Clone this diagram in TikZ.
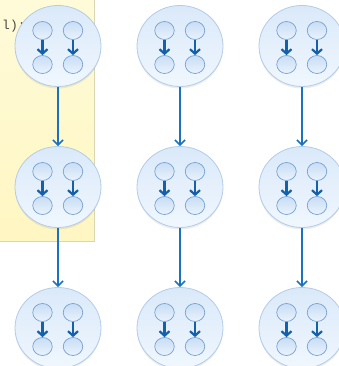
\documentclass[tikz,border=0pt]{standalone}
\usepackage{fontspec}
\newfontfamily\codefont{Liberation Mono}
\usetikzlibrary{arrows.meta,shapes.geometric,shadows}
\definecolor{bigrim}{HTML}{B3CCE7}
\definecolor{bigtop}{HTML}{DAE9F9}
\definecolor{bigbot}{HTML}{F0F7FE}
\definecolor{smallrim}{HTML}{77A1D1}
\definecolor{smalltop}{HTML}{C8DDF4}
\definecolor{smallbot}{HTML}{EAF3FC}
\definecolor{flow}{HTML}{1B72BE}
\definecolor{inner}{HTML}{1560AA}
\definecolor{notetop}{HTML}{FFFBD9}
\definecolor{notebot}{HTML}{FFF6C2}
\definecolor{noterim}{HTML}{D9D6B4}
\tikzset{
  bigc/.style={ellipse, minimum width=86pt, minimum height=81pt, draw=bigrim,
    line width=0.8pt, top color=bigtop, bottom color=bigbot,
    drop shadow={shadow xshift=0pt, shadow yshift=-2pt, opacity=0.15}},
  smallc/.style={ellipse, minimum width=19.5pt, minimum height=18pt, draw=smallrim,
    line width=0.7pt, top color=smalltop, bottom color=smallbot},
  flowarrow/.style={draw=flow, line width=1.4pt,
    -{Straight Barb[length=5pt, width=10pt, line width=1.6pt]}},
  innerarrow/.style={draw=inner, line width=2.2pt,
    -{Straight Barb[length=4.5pt, width=10pt, line width=2.2pt]}},
}
\begin{document}
\begin{tikzpicture}[x=1pt, y=-1pt]
  \useasboundingbox (0,0) rectangle (339,366);
  \clip (0,0) rectangle (339,366);
  % note panel behind the left column
  \node[draw=noterim, line width=0.8pt, top color=notetop, bottom color=notebot,
        minimum width=96pt, minimum height=242pt, inner sep=0pt, anchor=north east]
        (note) at (95,-1) {};
  \node[anchor=base west, text=black!70, font=\codefont\fontsize{13}{15}\selectfont, inner sep=0pt]
        (notetext) at (2,30) {l);};
  % groups of four
  \foreach \c/\x in {1/58, 2/180, 3/302} {
    \foreach \r/\y in {1/46, 2/187, 3/328} {
      \node[bigc] (g\c\r) at (\x,\y) {};
      \node[smallc] (a\c\r) at (\x-15.5,\y-15.5) {};
      \node[smallc] (b\c\r) at (\x+15,\y-15.5) {};
      \node[smallc] (c\c\r) at (\x-15.5,\y+18.5) {};
      \node[smallc] (d\c\r) at (\x+15,\y+18.5) {};
      \draw[innerarrow] (a\c\r) -- (c\c\r);
      \draw[innerarrow] (b\c\r) -- (d\c\r);
    }
    \draw[flowarrow] (g\c1) -- (g\c2);
    \draw[flowarrow] (g\c2) -- (g\c3);
  }
\end{tikzpicture}
\end{document}
